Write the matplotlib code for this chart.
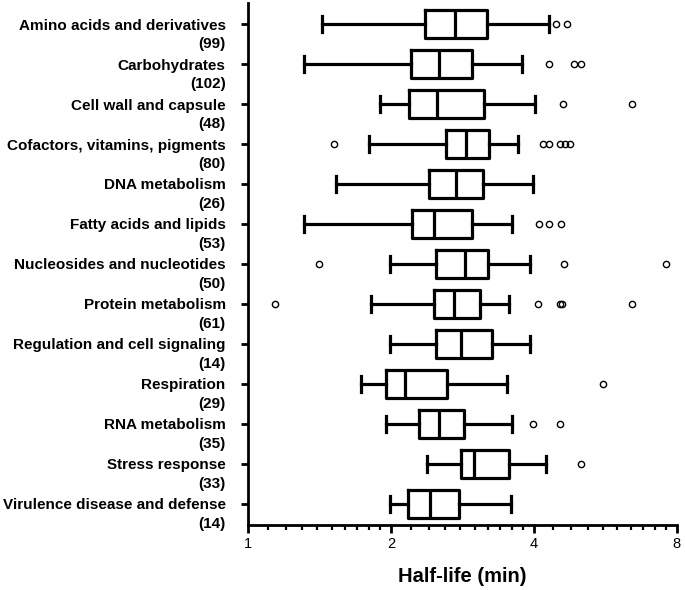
import matplotlib
matplotlib.use("Agg")
import matplotlib.pyplot as plt
from matplotlib.ticker import FixedLocator, NullFormatter

plt.rcParams['font.family'] = ['Liberation Sans', 'DejaVu Sans']

# categories (top to bottom) and number of genes
categories = ["Amino acids and derivatives", "Carbohydrates", "Cell wall and capsule",
              "Cofactors, vitamins, pigments", "DNA metabolism", "Fatty acids and lipids",
              "Nucleosides and nucleotides", "Protein metabolism",
              "Regulation and cell signaling", "Respiration", "RNA metabolism",
              "Stress response", "Virulence disease and defense"]
counts = [99, 102, 48, 80, 26, 53, 50, 61, 14, 29, 35, 33, 14]

# box statistics (half-life, min)
whislo = [1.43, 1.31, 1.90, 1.80, 1.53, 1.31, 1.99, 1.82, 1.99, 1.73, 1.95, 2.38, 1.99]
q1 = [2.36, 2.20, 2.18, 2.61, 2.40, 2.22, 2.49, 2.46, 2.49, 1.95, 2.29, 2.81, 2.17]
med = [2.73, 2.53, 2.50, 2.88, 2.74, 2.46, 2.87, 2.72, 2.81, 2.14, 2.52, 2.99, 2.42]
q3 = [3.19, 2.96, 3.14, 3.22, 3.12, 2.97, 3.21, 3.08, 3.27, 2.62, 2.85, 3.54, 2.78]
whishi = [4.30, 3.78, 4.03, 3.70, 3.98, 3.59, 3.93, 3.55, 3.93, 3.51, 3.59, 4.25, 3.58]
fliers = [[4.46, 4.69],
          [4.30, 4.87, 5.03],
          [4.60, 6.44],
          [1.52, 4.19, 4.30, 4.54, 4.66, 4.77],
          [],
          [4.11, 4.30, 4.56],
          [1.41, 4.62, 7.58],
          [1.14, 4.09, 4.53, 4.58, 6.44],
          [],
          [5.60],
          [3.99, 4.53],
          [5.03],
          []]

stats = []
for i in range(len(categories)):
    stats.append(dict(med=med[i], q1=q1[i], q3=q3[i], whislo=whislo[i],
                      whishi=whishi[i], fliers=fliers[i], label=categories[i]))

fig = plt.figure(figsize=(6.85, 5.9), dpi=100)
ax = fig.add_axes([0.362, 0.1102, 0.626, 0.8847])

lw = 2.3
positions = list(range(len(categories)))
ax.bxp(stats, positions=positions, vert=False, widths=0.69, capwidths=0.39,
       patch_artist=False, manage_ticks=False,
       boxprops=dict(color='black', linewidth=lw),
       medianprops=dict(color='black', linewidth=lw),
       whiskerprops=dict(color='black', linewidth=lw),
       capprops=dict(color='black', linewidth=lw),
       flierprops=dict(marker='o', markersize=4.5, markerfacecolor='none',
                       markeredgecolor='black', markeredgewidth=1.0))

ax.set_xscale('log', base=2)
ax.set_xlim(1, 8)
ax.set_ylim(12.525, -0.525)

ax.xaxis.set_major_locator(FixedLocator([1, 2, 4, 8]))
ax.set_xticklabels(['1', '2', '4', '8'])
minor = [1 + 0.1 * k for k in range(1, 10)] + [2 + 0.2 * k for k in range(1, 10)] \
    + [4 + 0.4 * k for k in range(1, 10)]
ax.xaxis.set_minor_locator(FixedLocator(minor))
ax.xaxis.set_minor_formatter(NullFormatter())

ax.set_yticks(positions)
ax.set_yticklabels(categories, fontsize=11, fontweight='bold')
for i, n in enumerate(counts):
    ax.annotate(f"({n})", xy=(0, i), xycoords=('axes fraction', 'data'),
                xytext=(-16, -14.5), textcoords='offset points',
                ha='right', va='center', fontsize=11, fontweight='bold')

for s in ['top', 'right']:
    ax.spines[s].set_visible(False)
for s in ['left', 'bottom']:
    ax.spines[s].set_linewidth(2.0)

ax.tick_params(axis='y', direction='out', length=5, width=2.0, pad=11)
ax.tick_params(axis='x', which='major', direction='out', length=6, width=2.0,
               labelsize=10.5, pad=3)
ax.tick_params(axis='x', which='minor', direction='out', length=3.5, width=1.6)

ax.set_xlabel("Half-life (min)", fontsize=14.5, fontweight='bold', labelpad=11)

fig.savefig("out.png", dpi=100)
